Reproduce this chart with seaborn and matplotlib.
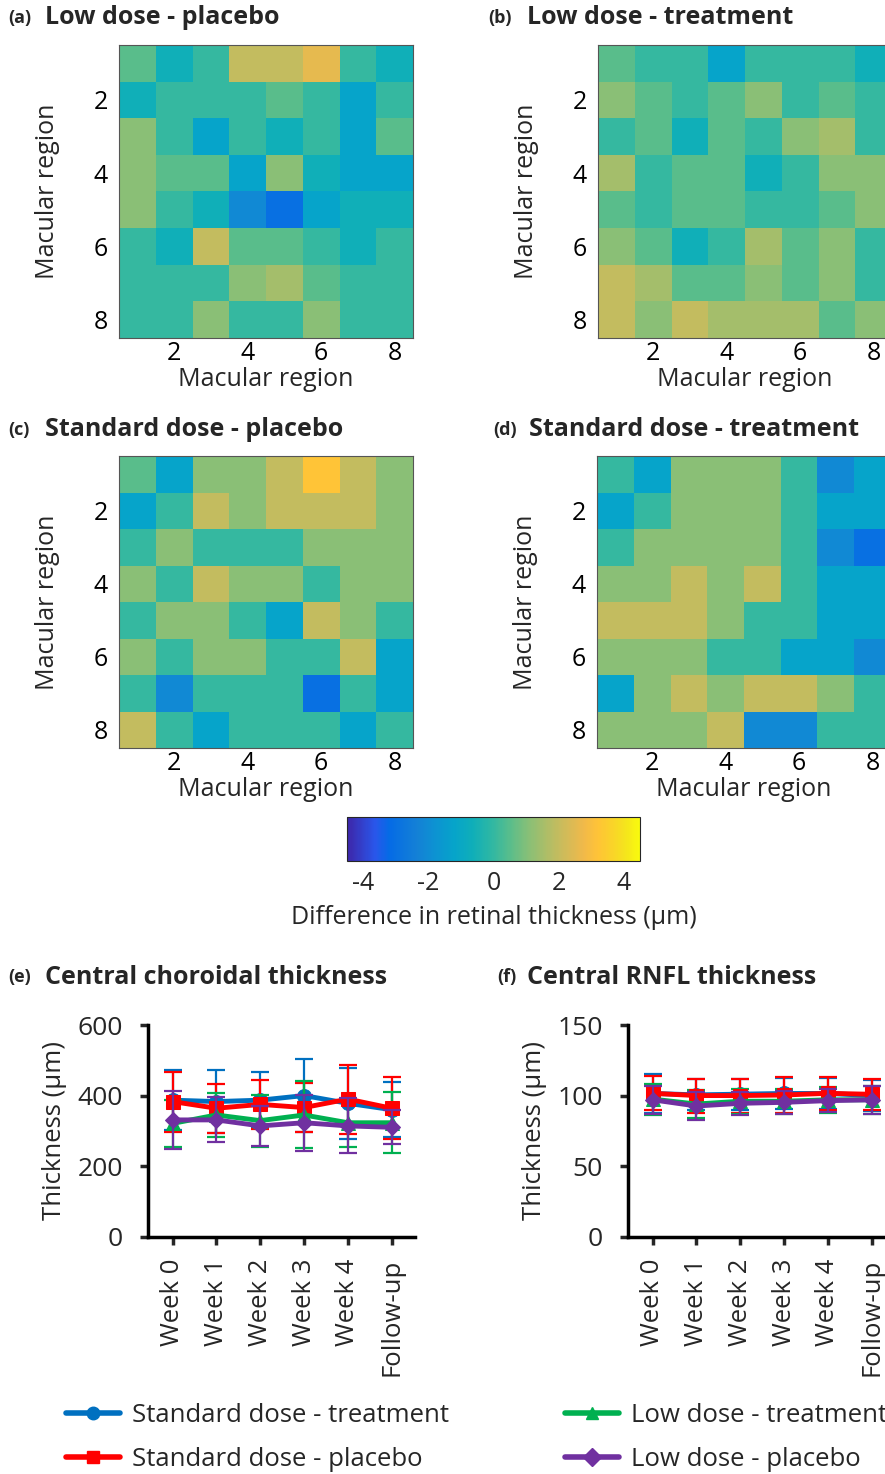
import numpy as np
import matplotlib
matplotlib.use('Agg')
import matplotlib.pyplot as plt
import seaborn as sns
from matplotlib.colors import LinearSegmentedColormap
from matplotlib.lines import Line2D

# difference in retinal thickness (um), rows = macular region 1..8 (top to bottom)
low_placebo = [
    [0.5, -0.6, 0.0, 2.0, 2.0, 2.6, 0.0, -0.6],
    [-0.6, 0.0, 0.0, 0.0, 0.5, 0.0, -1.2, 0.0],
    [1.1, 0.0, -1.2, 0.0, -0.6, 0.0, -1.2, 0.5],
    [1.1, 0.5, 0.5, -1.2, 1.1, -0.6, -1.2, -1.2],
    [1.1, 0.0, -0.6, -2.1, -3.0, -1.2, -0.6, -0.6],
    [0.0, -0.6, 2.0, 0.5, 0.5, 0.0, -0.6, 0.0],
    [0.0, 0.0, 0.0, 1.1, 1.5, 0.5, 0.0, 0.0],
    [0.0, 0.0, 1.1, 0.0, 0.0, 1.1, 0.0, 0.0],
]
low_treatment = [
    [0.5, 0.0, 0.0, -1.2, 0.0, 0.0, 0.0, -0.6],
    [1.1, 0.5, 0.0, 0.5, 1.1, 0.0, 0.5, 0.0],
    [0.0, 0.5, -0.6, 0.5, 0.0, 1.1, 1.5, 0.0],
    [1.5, 0.0, 0.5, 0.5, -0.6, 0.0, 1.1, 1.1],
    [0.5, 0.0, 0.5, 0.5, 0.0, 0.0, 0.5, 1.1],
    [1.1, 0.5, -0.6, 0.0, 1.5, 0.5, 1.1, 0.0],
    [2.0, 1.5, 0.5, 0.5, 1.1, 0.5, 1.1, 0.0],
    [2.0, 1.1, 2.0, 1.5, 1.5, 1.5, 0.5, 1.1],
]
std_placebo = [
    [0.5, -1.2, 1.1, 1.1, 2.0, 3.2, 2.0, 1.1],
    [-1.2, 0.0, 2.0, 1.1, 2.0, 2.0, 2.0, 1.1],
    [0.0, 1.1, 0.0, 0.0, 0.0, 1.1, 1.1, 1.1],
    [1.1, 0.0, 2.0, 1.1, 1.1, 0.0, 1.1, 1.1],
    [0.0, 1.1, 1.1, 0.0, -1.2, 2.0, 1.1, 0.0],
    [1.1, 0.0, 1.1, 1.1, 0.0, 0.0, 2.0, -1.2],
    [0.0, -2.1, 0.0, 0.0, 0.0, -3.0, 0.0, -1.2],
    [2.0, 0.0, -1.2, 0.0, 0.0, 0.0, -1.2, 0.0],
]
std_treatment = [
    [0.0, -1.2, 1.1, 1.1, 1.1, 0.0, -2.1, -1.2],
    [-1.2, 0.0, 1.1, 1.1, 1.1, 0.0, -1.2, -1.2],
    [0.0, 1.1, 1.1, 1.1, 1.1, 0.0, -2.1, -3.0],
    [1.1, 1.1, 2.0, 1.1, 2.0, 0.0, -1.2, -1.2],
    [2.0, 2.0, 2.0, 1.1, 0.0, 0.0, -1.2, -1.2],
    [1.1, 1.1, 1.1, 0.0, 0.0, -1.2, -1.2, -2.1],
    [-1.2, 1.1, 2.0, 1.1, 2.0, 2.0, 1.1, 0.0],
    [1.1, 1.1, 1.1, 2.0, -2.1, -2.1, 0.0, 0.0],
]

weeks = ['Week 0', 'Week 1', 'Week 2', 'Week 3', 'Week 4', 'Follow-up']
series = ['Standard dose - treatment', 'Standard dose - placebo',
          'Low dose - treatment', 'Low dose - placebo']

# central choroidal thickness (um): mean and SD
choroid_std_trt = [387, 383, 387, 400, 378, 360]
choroid_std_plc = [383, 364, 375, 366, 390, 364]
choroid_low_trt = [321, 345, 329, 345, 323, 323]
choroid_low_plc = [331, 331, 314, 323, 314, 310]
choroid_sd_std_trt = [85, 90, 80, 103, 100, 78]
choroid_sd_std_plc = [85, 70, 70, 70, 98, 88]
choroid_sd_low_trt = [66, 62, 74, 95, 68, 87]
choroid_sd_low_plc = [83, 64, 56, 80, 78, 48]

# central RNFL thickness (um): mean and SD
rnfl_std_trt = [101.5, 100.5, 101.0, 101.5, 101.5, 100.0]
rnfl_std_plc = [101.6, 100.0, 100.0, 100.4, 101.6, 100.9]
rnfl_low_trt = [97.5, 94.0, 96.0, 96.0, 97.0, 97.0]
rnfl_low_plc = [97.0, 92.6, 94.5, 95.2, 96.4, 97.0]
rnfl_sd_std_trt = [14, 11, 11, 11, 11, 11]
rnfl_sd_std_plc = [12, 12, 12, 12.5, 11.5, 11]
rnfl_sd_low_trt = [11, 10, 9, 9, 9, 10]
rnfl_sd_low_plc = [10, 10, 8, 8, 8, 10]

colors = ['#0070C0', '#FF0000', '#00B050', '#7030A0']
markers = ['o', 's', '^', 'D']

# MATLAB-like parula
parula = LinearSegmentedColormap.from_list('parula', [
    (0.000, (0.2422, 0.1504, 0.6603)),
    (0.095, (0.1600, 0.3400, 0.9200)),
    (0.143, (0.0200, 0.4200, 0.9000)),
    (0.238, (0.0779, 0.5040, 0.8384)),
    (0.302, (0.0488, 0.5772, 0.8228)),
    (0.365, (0.0231, 0.6418, 0.7913)),
    (0.429, (0.0590, 0.6838, 0.7254)),
    (0.492, (0.1801, 0.7177, 0.6424)),
    (0.556, (0.3482, 0.7424, 0.5473)),
    (0.619, (0.5300, 0.7491, 0.4661)),
    (0.683, (0.6834, 0.7435, 0.4044)),
    (0.746, (0.8185, 0.7327, 0.3498)),
    (0.810, (0.9450, 0.7261, 0.2886)),
    (0.857, (0.9990, 0.7653, 0.2164)),
    (0.905, (0.9789, 0.8271, 0.1633)),
    (0.952, (0.9589, 0.8949, 0.1132)),
    (1.000, (0.9763, 0.9831, 0.0538)),
])

sns.set_style('white')
plt.rcParams['font.family'] = ['Open Sans', 'DejaVu Sans']
plt.rcParams['axes.unicode_minus'] = False

W, H = 885, 1474
FS = 18
fig = plt.figure(figsize=(W / 100, H / 100), dpi=100)


def rect(left, top, width, height):
    return [left / W, 1 - (top + height) / H, width / W, height / H]


def panel_title(x_tag, x_text, y, tag, text):
    fig.text(x_tag / W, 1 - y / H, tag, fontsize=13, weight='bold', va='center')
    fig.text(x_text / W, 1 - y / H, text, fontsize=18, weight='bold', va='center')


def heat_panel(ax, data):
    sns.heatmap(np.array(data), ax=ax, cmap=parula, vmin=-4.5, vmax=4.5, cbar=False,
                xticklabels=False, yticklabels=False)
    pos = [1.5, 3.5, 5.5, 7.5]
    ax.set_xticks(pos)
    ax.set_xticklabels(['2', '4', '6', '8'])
    ax.set_yticks(pos)
    ax.set_yticklabels(['2', '4', '6', '8'], rotation=0)
    ax.tick_params(direction='in', length=3, width=0.8, top=True, right=True,
                   labelsize=FS, colors='#262626', labelcolor='black')
    ax.tick_params(axis='x', pad=2)
    ax.tick_params(axis='y', pad=8)
    for s in ax.spines.values():
        s.set_visible(True)
        s.set_linewidth(0.8)
        s.set_color('#555555')
    ax.set_xlabel('Macular region', fontsize=FS, labelpad=1)
    ax.set_ylabel('Macular region', fontsize=FS, labelpad=24)
    return ax


heat_specs = [
    (rect(119, 45, 294, 293), low_placebo, (8, 45, 18, '(a)', 'Low dose - placebo')),
    (rect(598, 45, 294, 293), low_treatment, (488, 527, 18, '(b)', 'Low dose - treatment')),
    (rect(119, 456, 294, 292), std_placebo, (8, 45, 430, '(c)', 'Standard dose - placebo')),
    (rect(597, 456, 294, 292), std_treatment, (493, 529, 430, '(d)', 'Standard dose - treatment')),
]
for r, data, t in heat_specs:
    ax = fig.add_axes(r)
    heat_panel(ax, data)
    panel_title(*t)

cax = fig.add_axes(rect(347, 817, 293, 44))
sm = plt.cm.ScalarMappable(cmap=parula, norm=plt.Normalize(-4.5, 4.5))
cb = fig.colorbar(sm, cax=cax, orientation='horizontal')
cb.set_ticks([-4, -2, 0, 2, 4])
cb.ax.set_xticks(np.arange(-4, 5, 1), minor=True)
cb.ax.tick_params(which='both', direction='in', length=3, width=0.8, labelsize=FS, pad=7)
cb.outline.set_linewidth(0.8)
cb.set_label('Difference in retinal thickness (\u03bcm)', fontsize=FS, labelpad=7)


def line_panel(ax, means, sds, ymax, yticks):
    x = np.arange(len(weeks))
    for i in [0, 2, 1, 3]:
        ax.errorbar(x, means[i], yerr=sds[i], fmt='none', ecolor=colors[i],
                    elinewidth=1.6, capsize=6.5, capthick=1.6, zorder=2 + i)
        sns.lineplot(x=x, y=means[i], ax=ax, color=colors[i], marker=markers[i],
                     markersize=10 if markers[i] != 'D' else 8.5, linewidth=3.5,
                     markeredgecolor=colors[i], zorder=3 + i)
    ax.set_xlim(-0.56, 5.53)
    ax.set_ylim(0, ymax)
    ax.set_yticks(yticks)
    ax.set_xticks(x)
    ax.set_xticklabels(weeks, rotation=90)
    for s in ['top', 'right']:
        ax.spines[s].set_visible(False)
    for s in ['left', 'bottom']:
        ax.spines[s].set_linewidth(2.5)
        ax.spines[s].set_color('black')
    ax.tick_params(direction='out', length=6, width=2.5, labelsize=19,
                   bottom=True, left=True)
    ax.tick_params(axis='x', pad=10, labelsize=18.5)
    ax.tick_params(axis='y', pad=12)
    ax.set_ylabel('Thickness (\u03bcm)', fontsize=18.5, labelpad=8)
    ax.set_xlabel('')


ax_e = fig.add_axes(rect(148, 1025, 267, 211.7))
line_panel(ax_e,
           [choroid_std_trt, choroid_std_plc, choroid_low_trt, choroid_low_plc],
           [choroid_sd_std_trt, choroid_sd_std_plc, choroid_sd_low_trt, choroid_sd_low_plc],
           600, [0, 200, 400, 600])
panel_title(8, 45, 977, '(e)', 'Central choroidal thickness')

ax_f = fig.add_axes(rect(628, 1025, 267, 211.7))
line_panel(ax_f,
           [rnfl_std_trt, rnfl_std_plc, rnfl_low_trt, rnfl_low_plc],
           [rnfl_sd_std_trt, rnfl_sd_std_plc, rnfl_sd_low_trt, rnfl_sd_low_plc],
           150, [0, 50, 100, 150])
panel_title(497, 527, 977, '(f)', 'Central RNFL thickness')

handles = [Line2D([0], [0], color=colors[i], marker=markers[i], linewidth=4,
                  markersize=9, markeredgecolor=colors[i]) for i in range(4)]
for cols, xl in [([0, 1], 66), ([2, 3], 565)]:
    fig.legend([handles[i] for i in cols], [series[i] for i in cols],
               loc='upper left', bbox_to_anchor=(xl / W, 1 - 1403 / H),
               frameon=False, fontsize=18.5, handlelength=2.1,
               handletextpad=0.45, labelspacing=0.75, borderaxespad=0,
               borderpad=0)

fig.savefig('out.png', dpi=100)
